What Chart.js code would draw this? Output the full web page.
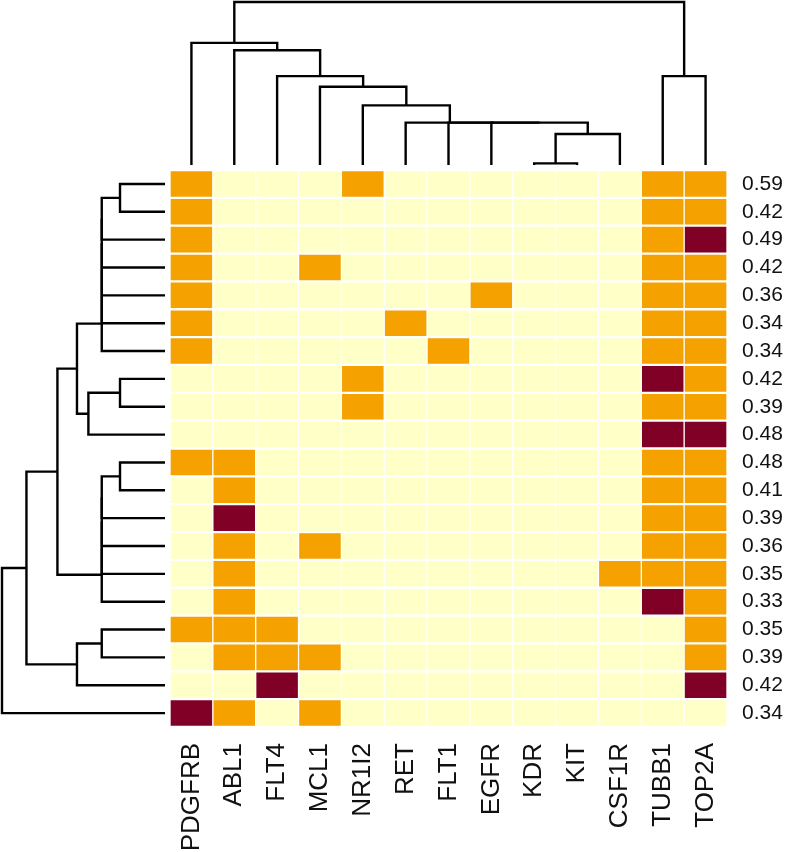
<!DOCTYPE html>
<html>
<head>
<meta charset="utf-8">
<script src="https://cdn.jsdelivr.net/npm/chart.js@4"></script>
<style>
  body { margin: 0; background: #fff; }
  #wrap { position: relative; width: 787px; height: 852px; }
  canvas { position: absolute; }
</style>
</head>
<body>
<div id="wrap">
  <canvas id="topTree" width="557" height="170" style="left:170px;top:0px"></canvas>
  <canvas id="leftTree" width="170" height="557" style="left:0px;top:170px"></canvas>
  <canvas id="heat" width="617" height="682" style="left:170px;top:170px"></canvas>
</div>
<script>
const genes = ['PDGFRB', 'ABL1', 'FLT4', 'MCL1', 'NR1I2', 'RET', 'FLT1', 'EGFR', 'KDR', 'KIT', 'CSF1R', 'TUBB1', 'TOP2A'];
const rowScores = ['0.59', '0.42', '0.49', '0.42', '0.36', '0.34', '0.34', '0.42', '0.39', '0.48',
                   '0.48', '0.41', '0.39', '0.36', '0.35', '0.33', '0.35', '0.39', '0.42', '0.34'];

// 0 = none, 1 = medium, 2 = high
const heat = [
    [1, 0, 0, 0, 1, 0, 0, 0, 0, 0, 0, 1, 1],
    [1, 0, 0, 0, 0, 0, 0, 0, 0, 0, 0, 1, 1],
    [1, 0, 0, 0, 0, 0, 0, 0, 0, 0, 0, 1, 2],
    [1, 0, 0, 1, 0, 0, 0, 0, 0, 0, 0, 1, 1],
    [1, 0, 0, 0, 0, 0, 0, 1, 0, 0, 0, 1, 1],
    [1, 0, 0, 0, 0, 1, 0, 0, 0, 0, 0, 1, 1],
    [1, 0, 0, 0, 0, 0, 1, 0, 0, 0, 0, 1, 1],
    [0, 0, 0, 0, 1, 0, 0, 0, 0, 0, 0, 2, 1],
    [0, 0, 0, 0, 1, 0, 0, 0, 0, 0, 0, 1, 1],
    [0, 0, 0, 0, 0, 0, 0, 0, 0, 0, 0, 2, 2],
    [1, 1, 0, 0, 0, 0, 0, 0, 0, 0, 0, 1, 1],
    [0, 1, 0, 0, 0, 0, 0, 0, 0, 0, 0, 1, 1],
    [0, 2, 0, 0, 0, 0, 0, 0, 0, 0, 0, 1, 1],
    [0, 1, 0, 1, 0, 0, 0, 0, 0, 0, 0, 1, 1],
    [0, 1, 0, 0, 0, 0, 0, 0, 0, 0, 1, 1, 1],
    [0, 1, 0, 0, 0, 0, 0, 0, 0, 0, 0, 2, 1],
    [1, 1, 1, 0, 0, 0, 0, 0, 0, 0, 0, 0, 1],
    [0, 1, 1, 1, 0, 0, 0, 0, 0, 0, 0, 0, 1],
    [0, 0, 2, 0, 0, 0, 0, 0, 0, 0, 0, 0, 2],
    [2, 1, 0, 1, 0, 0, 0, 0, 0, 0, 0, 0, 0]
];
const palette = ['#FFFFC8', '#F5A100', '#800026'];

// hclust style merges: negative = leaf (1-based, in display order), positive = earlier merge
const colMerges = [
    [-9, -10, 0.01],
    [1, -11, 0.19],
    [-8, 2, 0.26],
    [-7, 3, 0.26],
    [-6, 4, 0.26],
    [-5, 5, 0.366],
    [-4, 6, 0.48],
    [-3, 7, 0.545],
    [-2, 8, 0.704],
    [-1, 9, 0.749],
    [-12, -13, 0.545],
    [10, 11, 1.0]
];
const rowMerges = [
    [-1, -2, 0.276],
    [1, -3, 0.388],
    [2, -4, 0.388],
    [3, -5, 0.388],
    [4, -6, 0.388],
    [5, -7, 0.388],
    [-8, -9, 0.276],
    [7, -10, 0.47],
    [6, 8, 0.54],
    [-11, -12, 0.276],
    [10, -13, 0.388],
    [11, -14, 0.388],
    [12, -15, 0.388],
    [13, -16, 0.388],
    [9, 14, 0.66],
    [-17, -18, 0.388],
    [16, -19, 0.54],
    [15, 17, 0.85],
    [18, -20, 1.0]
];

// turn merges into U shaped paths: [position, height] pairs
function treePaths(merges) {
    const pos = [], ht = [], paths = [];
    const at = c => c < 0 ? [-c - 0.5, 0] : [pos[c - 1], ht[c - 1]];
    merges.forEach(([a, b, h]) => {
        const [pa, ha] = at(a);
        const [pb, hb] = at(b);
        paths.push([[pa, ha], [pa, h], [pb, h], [pb, hb]]);
        pos.push((pa + pb) / 2);
        ht.push(h);
    });
    return paths;
}

function treeSets(paths, flip) {
    return paths.map(p => ({
        data: p.map(([pos, h]) => flip ? { x: h, y: pos } : { x: pos, y: h }),
        showLine: true,
        borderColor: '#000',
        borderWidth: 2.4,
        pointRadius: 0,
        tension: 0,
        clip: false
    }));
}

const baseOpts = {
    responsive: false,
    animation: false,
    devicePixelRatio: 1,
    plugins: { legend: { display: false }, tooltip: { enabled: false } }
};

new Chart(document.getElementById('topTree'), {
    type: 'scatter',
    data: { datasets: treeSets(treePaths(colMerges), false) },
    options: {
        ...baseOpts,
        layout: { padding: { top: 2, bottom: 5, left: 0, right: 0 } },
        scales: {
            x: { type: 'linear', min: 0, max: genes.length, display: false },
            y: { type: 'linear', min: 0, max: 1, display: false }
        }
    }
});

new Chart(document.getElementById('leftTree'), {
    type: 'scatter',
    data: { datasets: treeSets(treePaths(rowMerges), true) },
    options: {
        ...baseOpts,
        layout: { padding: { top: 0, bottom: 0, left: 2, right: 5 } },
        scales: {
            x: { type: 'linear', min: 0, max: 1, reverse: true, display: false },
            y: { type: 'linear', min: 0, max: rowScores.length, reverse: true, display: false }
        }
    }
});

const noPad = s => { s.paddingLeft = 0; s.paddingRight = 0; s.paddingTop = 0; s.paddingBottom = 0; };

new Chart(document.getElementById('heat'), {
    type: 'bar',
    data: {
        labels: genes,
        datasets: heat.map((row, r) => ({
            data: row.map(() => [r, r + 1]),
            backgroundColor: row.map(v => palette[v]),
            borderColor: '#fff',
            borderWidth: { top: 1.5, bottom: 1.5, left: 1, right: 1 },
            borderSkipped: false,
            grouped: false,
            categoryPercentage: 1,
            barPercentage: 1
        }))
    },
    options: {
        ...baseOpts,
        layout: { padding: 0 },
        scales: {
            x: {
                type: 'category',
                offset: true,
                grid: { display: false, drawTicks: false },
                border: { display: false },
                ticks: {
                    autoSkip: false,
                    minRotation: 90,
                    maxRotation: 90,
                    padding: 16,
                    color: '#111',
                    font: { family: 'Liberation Sans', size: 26 }
                },
                afterFit: s => { s.height = 125; noPad(s); }
            },
            y: { type: 'linear', min: 0, max: rowScores.length, reverse: true, display: false },
            yr: {
                type: 'category',
                labels: rowScores,
                position: 'right',
                offset: true,
                grid: { display: false, drawTicks: false },
                border: { display: false },
                ticks: {
                    autoSkip: false,
                    padding: 15,
                    color: '#111',
                    font: { family: 'Liberation Sans', size: 21 }
                },
                afterFit: s => { s.width = 60; noPad(s); }
            }
        }
    }
});
</script>
</body>
</html>
